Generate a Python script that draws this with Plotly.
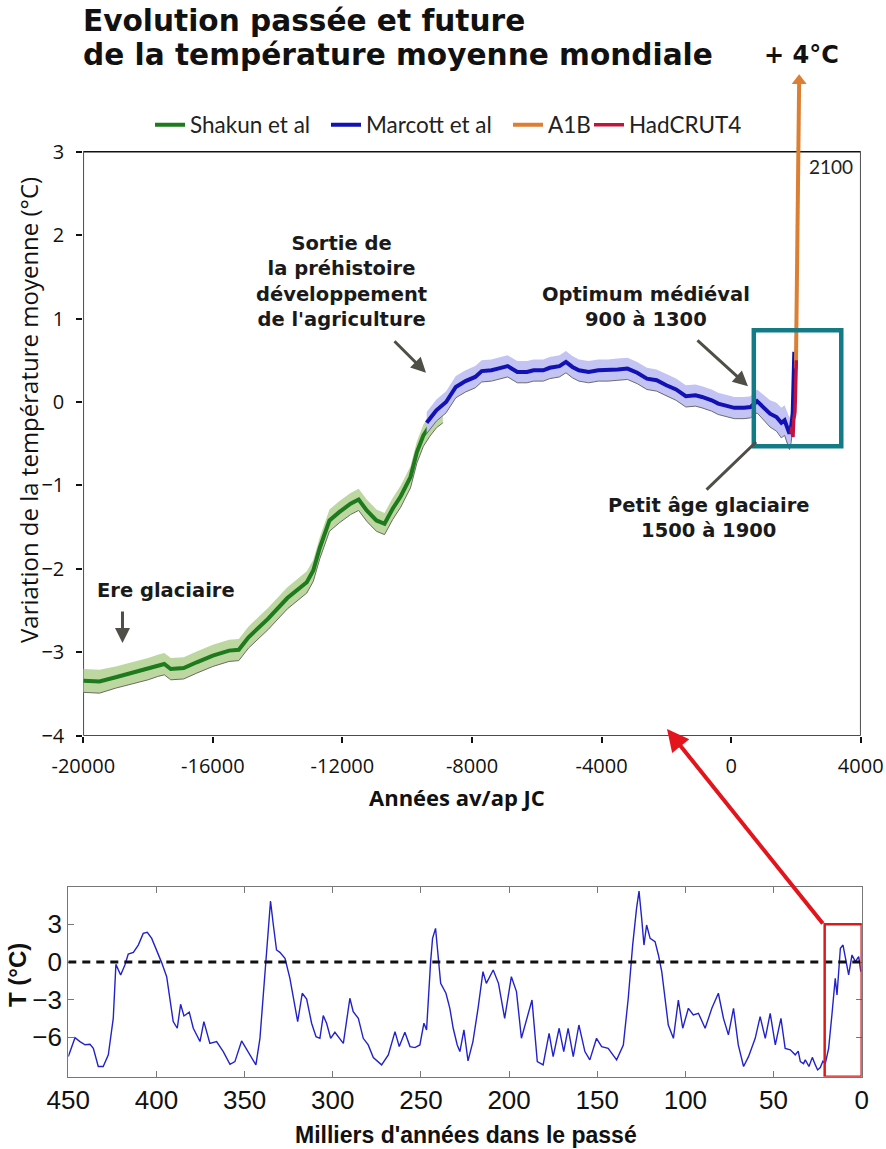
import plotly.graph_objects as go

W, H = 886, 1149


def px(x):
    return x / W


def py(y):
    return 1 - y / H


# ---------------- Top chart data ----------------
SHAKUN_YEARS = [-20000, -19500, -19000, -18600, -18000, -17700, -17500, -17300, -16900, -16500,
                -16000, -15500, -15200, -14900, -14300, -13700, -13100, -12900, -12700, -12400,
                -12100, -11750, -11500, -11250, -10950, -10700, -10450, -10200, -9900, -9700,
                -9500, -9300, -9100, -8900]
SHAKUN_TEMP = [-3.34, -3.35, -3.30, -3.26, -3.20, -3.16, -3.14, -3.20, -3.19, -3.12,
               -3.04, -2.98, -2.97, -2.82, -2.60, -2.35, -2.16, -2.02, -1.75, -1.42,
               -1.32, -1.22, -1.17, -1.30, -1.42, -1.46, -1.28, -1.13, -0.90, -0.60,
               -0.40, -0.28, -0.18, -0.12]
SHAKUN_ERR = [0.14, 0.14, 0.13, 0.13, 0.13, 0.13, 0.13, 0.13, 0.13, 0.13,
              0.13, 0.13, 0.13, 0.13, 0.13, 0.13, 0.13, 0.13, 0.13, 0.13,
              0.13, 0.13, 0.13, 0.13, 0.13, 0.13, 0.13, 0.13, 0.13, 0.13,
              0.13, 0.13, 0.13, 0.13]

MARCOTT_YEARS = [-9400, -9100, -8800, -8500, -8200, -7900, -7700, -7400, -7200, -6900,
                 -6600, -6300, -6100, -5800, -5600, -5300, -5100, -4900, -4700, -4400,
                 -4100, -3800, -3500, -3200, -2900, -2600, -2300, -2000, -1700, -1400,
                 -1100, -900, -600, -400, -100, 100, 400, 600, 800, 1000,
                 1200, 1400, 1550, 1650, 1750, 1800, 1850, 1900, 1950]
MARCOTT_TEMP = [-0.25, -0.10, 0.00, 0.18, 0.25, 0.30, 0.37, 0.38, 0.40, 0.43,
                0.36, 0.36, 0.38, 0.38, 0.41, 0.43, 0.48, 0.42, 0.38, 0.36,
                0.38, 0.38, 0.39, 0.40, 0.35, 0.28, 0.26, 0.20, 0.15, 0.07,
                0.08, 0.06, 0.02, -0.02, -0.05, -0.07, -0.07, -0.06, 0.01, -0.06,
                -0.14, -0.18, -0.25, -0.22, -0.34, -0.38, -0.30, -0.15, 0.60]
MARCOTT_ERR = [0.13, 0.13, 0.13, 0.13, 0.13, 0.13, 0.13, 0.13, 0.13, 0.13,
               0.13, 0.13, 0.13, 0.13, 0.13, 0.13, 0.13, 0.13, 0.13, 0.13,
               0.13, 0.13, 0.13, 0.13, 0.13, 0.13, 0.13, 0.13, 0.13, 0.13,
               0.13, 0.13, 0.13, 0.13, 0.13, 0.13, 0.13, 0.13, 0.14, 0.15,
               0.16, 0.17, 0.18, 0.18, 0.19, 0.19, 0.19, 0.19, 0.19]

A1B_YEARS = [2000, 2020, 2040, 2060, 2080, 2100]
A1B_TEMP = [0.40, 0.95, 1.60, 2.30, 3.00, 3.85]

HADCRUT_YEARS = [1850, 1870, 1890, 1910, 1930, 1950, 1970, 1980, 1990, 2000, 2012]
HADCRUT_TEMP = [-0.38, -0.30, -0.36, -0.42, -0.22, -0.16, -0.12, 0.02, 0.18, 0.33, 0.50]

TOP_XTICKS = [-20000, -16000, -12000, -8000, -4000, 0, 4000]
TOP_YTICKS = [-4, -3, -2, -1, 0, 1, 2, 3]

# ---------------- Bottom chart data (thousands of years BP) ----------------
VOSTOK_KYR = [450.0, 446.2, 443.4, 440.5, 437.7, 435.8, 433.0, 430.2, 427.3, 424.5,
              423.0, 420.3, 417.9, 416.0, 413.1, 410.3, 407.5, 405.2, 402.7, 399.9,
              397.1, 394.2, 390.5, 388.2, 386.3, 384.4, 381.4, 379.1, 375.3, 373.1,
              369.7, 365.9, 362.1, 358.3, 355.5, 351.7, 347.9, 343.6, 341.3, 338.5,
              336.6, 335.3, 333.7, 331.9, 330.0, 327.1, 324.3, 322.4, 319.9, 317.3,
              314.8, 312.0, 309.5, 307.3, 305.4, 303.5, 301.2, 298.8, 295.9, 294.0,
              290.3, 288.4, 285.5, 282.7, 279.9, 277.0, 272.3, 268.5, 264.7, 262.3,
              259.1, 256.2, 253.4, 250.6, 248.3, 246.8, 244.5, 243.4, 241.7, 240.2,
              238.8, 235.8, 233.6, 231.7, 229.4, 227.9, 225.6, 223.3, 220.5, 217.6,
              214.8, 212.9, 209.0, 206.0, 202.5, 198.7, 195.8, 193.0, 190.2, 187.0,
              184.0, 180.7, 177.3, 175.0, 171.6, 169.0, 166.5, 163.6, 160.4, 157.0,
              154.2, 150.4, 147.5, 143.8, 139.0, 135.2, 132.4, 129.9, 127.7, 126.3,
              124.8, 123.5, 122.0, 120.0, 117.2, 115.3, 113.4, 111.6, 109.7, 106.8,
              104.0, 101.5, 98.3, 95.5, 92.6, 88.8, 85.0, 81.3, 78.4, 75.6,
              72.7, 70.0, 67.0, 64.2, 60.4, 57.6, 54.7, 51.9, 49.0, 45.8,
              43.4, 40.5, 37.7, 36.0, 34.8, 33.0, 32.0, 29.9, 28.0, 26.3,
              25.0, 23.5, 22.0, 20.6, 18.75, 16.9, 15.0, 14.0, 12.1, 10.6,
              8.7, 7.4, 5.5, 3.6, 1.7, 0.5]
VOSTOK_TEMP = [-7.54, -6.03, -6.34, -6.60, -6.56, -6.88, -8.33, -8.33, -7.40, -4.49,
               -0.19, -1.03, -0.24, 0.64, 0.77, 1.35, 2.28, 2.36, 1.88, 0.96,
               -0.03, -1.17, -4.75, -5.28, -3.37, -4.30, -4.00, -5.28, -6.34, -4.75,
               -6.48, -6.34, -7.14, -8.15, -7.94, -6.29, -7.14, -8.20, -6.08, -1.03,
               2.28, 4.86, 2.95, 0.96, 0.77, 0.29, -1.30, -2.89, -4.75, -2.49,
               -2.95, -4.88, -5.95, -6.08, -4.27, -4.88, -6.08, -5.60, -6.08, -6.48,
               -2.89, -3.96, -4.49, -6.08, -6.61, -7.62, -8.20, -7.40, -5.55, -6.74,
               -5.60, -6.74, -6.82, -6.61, -4.88, -5.42, 0.03, 1.88, 2.68, 0.29,
               -1.70, -2.49, -3.69, -5.28, -6.61, -7.14, -5.40, -7.88, -6.34, -3.69,
               -0.77, -1.70, -0.64, -1.70, -4.49, -1.17, -2.36, -6.08, -4.75, -3.03,
               -7.94, -8.20, -5.68, -7.54, -5.28, -7.14, -5.28, -7.54, -5.02, -7.14,
               -7.80, -6.08, -6.74, -6.88, -7.80, -6.61, -2.89, 1.35, 4.27, 5.65,
               3.48, 1.35, 2.95, 1.88, 1.62, 0.56, -0.77, -2.63, -5.02, -6.08,
               -3.03, -5.28, -3.69, -4.22, -4.09, -5.28, -3.69, -2.49, -4.49, -5.81,
               -3.69, -6.61, -8.33, -7.54, -6.08, -4.35, -6.08, -4.09, -6.61, -4.49,
               -6.88, -7.00, -7.40, -7.10, -7.94, -8.10, -7.80, -8.33, -7.60, -8.20,
               -8.60, -8.41, -7.90, -8.07, -6.88, -4.22, -1.30, -2.63, 1.09, 1.35,
               0.03, -1.03, 0.56, 0.03, 0.43, -0.77]

BOTTOM_XTICKS = [450, 400, 350, 300, 250, 200, 150, 100, 50, 0]
BOTTOM_YTICKS = [-6, -3, 0, 3]

# ---------------- Colours ----------------
GREEN = "#1d7a1d"
GREEN_BAND = "#bcd7a0"
BLUE = "#1212b4"
BLUE_BAND = "#c3c3f4"
ORANGE = "#dd7f33"
RED = "#c0143c"
GRAY_ARROW = "#4f4f47"
TEAL = "#137b86"
VOSTOK_BLUE = "#2222cc"

fig = go.Figure()

sh_up = [v + e for v, e in zip(SHAKUN_TEMP, SHAKUN_ERR)]
sh_lo = [v - e for v, e in zip(SHAKUN_TEMP, SHAKUN_ERR)]
ma_up = [v + e for v, e in zip(MARCOTT_TEMP, MARCOTT_ERR)]
ma_lo = [v - e for v, e in zip(MARCOTT_TEMP, MARCOTT_ERR)]

fig.add_trace(go.Scatter(x=SHAKUN_YEARS + SHAKUN_YEARS[::-1], y=sh_up + sh_lo[::-1],
                         fill="toself", fillcolor=GREEN_BAND, line=dict(width=0),
                         mode="lines", showlegend=False, hoverinfo="skip"))
fig.add_trace(go.Scatter(x=SHAKUN_YEARS, y=sh_lo, mode="lines",
                         line=dict(color="#6b6b63", width=1), showlegend=False, hoverinfo="skip"))
fig.add_trace(go.Scatter(x=SHAKUN_YEARS, y=SHAKUN_TEMP, mode="lines", name="Shakun et al",
                         line=dict(color=GREEN, width=4), legend="legend"))
fig.add_trace(go.Scatter(x=MARCOTT_YEARS + MARCOTT_YEARS[::-1], y=ma_up + ma_lo[::-1],
                         fill="toself", fillcolor=BLUE_BAND, line=dict(width=0),
                         mode="lines", showlegend=False, hoverinfo="skip"))
fig.add_trace(go.Scatter(x=MARCOTT_YEARS, y=ma_lo, mode="lines",
                         line=dict(color="#6b6b73", width=1), showlegend=False, hoverinfo="skip"))
fig.add_trace(go.Scatter(x=MARCOTT_YEARS, y=MARCOTT_TEMP, mode="lines", name="Marcott et al",
                         line=dict(color=BLUE, width=4), legend="legend2"))
fig.add_trace(go.Scatter(x=A1B_YEARS, y=A1B_TEMP, mode="lines", name="A1B",
                         line=dict(color=ORANGE, width=4), legend="legend3"))
fig.add_trace(go.Scatter(x=A1B_YEARS[-1:], y=A1B_TEMP[-1:], mode="markers",
                         marker=dict(symbol="triangle-up", size=13, color=ORANGE),
                         showlegend=False, hoverinfo="skip"))
fig.add_trace(go.Scatter(x=HADCRUT_YEARS, y=HADCRUT_TEMP, mode="lines", name="HadCRUT4",
                         line=dict(color=RED, width=3.5), legend="legend4"))

fig.add_trace(go.Scatter(x=VOSTOK_KYR, y=VOSTOK_TEMP, mode="lines", xaxis="x2", yaxis="y2",
                         line=dict(color=VOSTOK_BLUE, width=1.4), showlegend=False))

TOP_TICKFONT = dict(family="Open Sans", size=20, color="#111")
BOT_TICKFONT = dict(family="Liberation Sans", size=26, color="#111")
LEG_FONT = dict(family="Lato", size=22.5, color="#222")


def legend_at(xpix):
    return dict(orientation="h", x=px(xpix), y=py(125), xanchor="left", yanchor="middle",
                font=LEG_FONT, bgcolor="rgba(0,0,0,0)", itemwidth=30)


fig.update_layout(
    width=W, height=H, autosize=False,
    margin=dict(l=0, r=0, t=0, b=0, autoexpand=False),
    paper_bgcolor="white", plot_bgcolor="white",
    showlegend=True,
    legend=legend_at(150),
    legend2=legend_at(326),
    legend3=legend_at(508),
    legend4=legend_at(589),
    xaxis=dict(domain=[px(83.3), px(860.7)], range=[-20000, 4000], tickvals=TOP_XTICKS,
               ticktext=[str(v) for v in TOP_XTICKS], ticks="outside", ticklen=6, tickwidth=1.5,
               tickcolor="#111", showgrid=False, zeroline=False, showline=False,
               tickfont=TOP_TICKFONT, anchor="y", ticklabelstandoff=6, automargin=False),
    yaxis=dict(domain=[py(735.7), py(735.7 - 8 * 83.43)], range=[-4, 4], tickvals=TOP_YTICKS,
               ticks="outside", ticklen=6, tickwidth=1.5, tickcolor="#111", showgrid=False,
               zeroline=False, showline=False, tickfont=TOP_TICKFONT, anchor="x",
               ticklabelstandoff=8, automargin=False),
    xaxis2=dict(domain=[px(68.3), px(861.7)], range=[450, 0], tickvals=BOTTOM_XTICKS,
                ticks="inside", ticklen=6, tickcolor="#777", showgrid=False, zeroline=False,
                showline=True, linecolor="#777", linewidth=1.2, mirror="ticks",
                tickfont=BOT_TICKFONT, anchor="y2", automargin=False),
    yaxis2=dict(domain=[py(1076.7), py(886.7)], range=[-9.14, 6.0], tickvals=BOTTOM_YTICKS,
                ticks="inside", ticklen=6, tickcolor="#777", showgrid=False, zeroline=False,
                showline=True, linecolor="#777",
                linewidth=1.2, mirror="ticks", tickfont=BOT_TICKFONT, anchor="x2",
                automargin=False),
)

shapes = [
    dict(type="rect", xref="x", yref="y", x0=-20000, x1=4000, y0=-4, y1=3,
         line=dict(color="#111", width=1.5), layer="below"),
    dict(type="rect", xref="x", yref="y", x0=700, x1=3400, y0=-0.53, y1=0.86,
         line=dict(color=TEAL, width=4.5), layer="above"),
    dict(type="line", xref="x2", yref="y2", x0=450, x1=0, y0=0, y1=0,
         line=dict(color="#111", width=3, dash="8px,6px")),
    dict(type="rect", xref="x2", yref="y2", x0=21, x1=0, y0=-9.14, y1=3,
         line=dict(color="#dd1a1a", width=2.5), layer="above"),
]
fig.update_layout(shapes=shapes)

BOLD_ANN = dict(family="DejaVu Sans", size=19.5, color="#1a1a1a")
TITLE_FONT = dict(family="DejaVu Sans", size=29.6, color="#111")


def text(x, y, s, font, xanchor="center", angle=0):
    return dict(xref="paper", yref="paper", x=px(x), y=py(y), text=s, showarrow=False,
                xanchor=xanchor, yanchor="middle", font=font, textangle=angle, align="center")


anns = [
    text(81, 21, "<b>Evolution passée et future</b>", TITLE_FONT, xanchor="left"),
    text(81, 55.5, "<b>de la température moyenne mondiale</b>", TITLE_FONT, xanchor="left"),
    text(801, 55, "<b>+ 4°C</b>", dict(family="DejaVu Sans", size=24, color="#111")),
    text(807, 167, "2100", dict(family="Lato", size=19, color="#222"), xanchor="left"),
    text(166, 590, "<b>Ere glaciaire</b>", BOLD_ANN),
    text(341, 281, "<b>Sortie de<br>la préhistoire<br>développement<br>de l'agriculture</b>", BOLD_ANN),
    text(646, 307, "<b>Optimum médiéval<br>900 à 1300</b>", BOLD_ANN),
    text(709, 518, "<b>Petit âge glaciaire<br>1500 à 1900</b>", BOLD_ANN),
    text(29, 410, "Variation de la température moyenne (°C)",
         dict(family="Open Sans", size=24, color="#111"), angle=-90),
    text(457, 797, "<b>Années av/ap JC</b>", dict(family="Open Sans", size=22, color="#111")),
    text(17, 975, "<b>T (°C)</b>", dict(family="Liberation Sans", size=24, color="#111"), angle=-90),
    text(466, 1135, "<b>Milliers d'années dans le passé</b>",
         dict(family="Liberation Sans", size=23, color="#111")),
]


def arrow(x, y, ax, ay, head=2):
    return dict(xref="x", yref="y", x=x, y=y, ax=ax, ay=ay, text="", showarrow=True,
                arrowhead=head, arrowsize=1, arrowwidth=3, arrowcolor=GRAY_ARROW)


anns += [
    arrow(-18790, -2.89, 0, -33),
    arrow(-9420, 0.35, -33, -33),
    arrow(520, 0.19, -52, -47),
    arrow(770, -0.48, -51, 49, head=0),
]

anns.append(dict(xref="paper", yref="paper", x=px(667), y=py(729), ax=157, ay=196, text="",
                 showarrow=True, arrowhead=2, arrowsize=1.1, arrowwidth=4, arrowcolor="#e3141c"))

fig.update_layout(annotations=anns)

fig.write_html(
    "out.html",
    config={"displayModeBar": False},
    post_script="document.body.style.margin='0px';document.body.style.padding='0px';"
                "document.body.style.overflow='hidden';",
)
